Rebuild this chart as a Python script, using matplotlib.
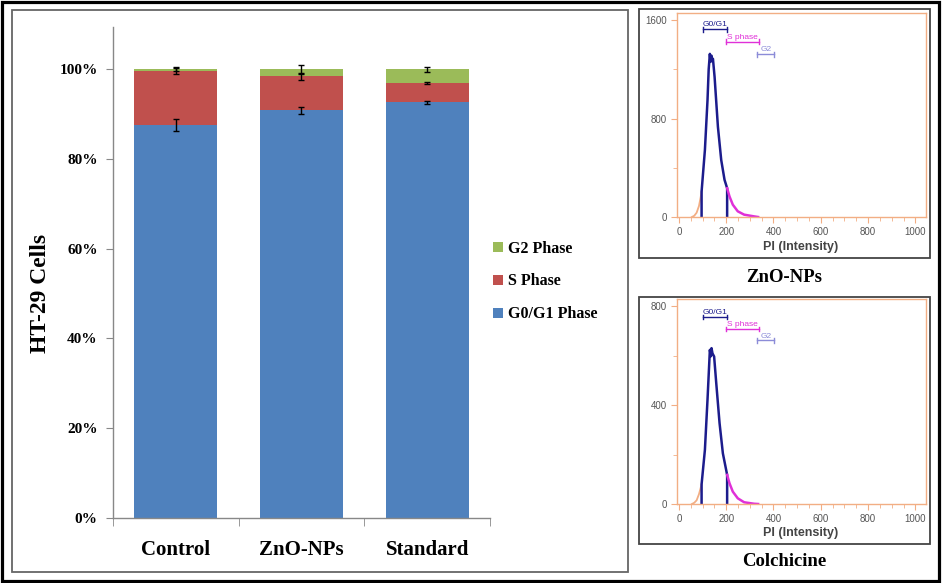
import matplotlib
matplotlib.use('Agg')
import matplotlib.pyplot as plt
from matplotlib.patches import Rectangle
from matplotlib.ticker import FixedLocator, MultipleLocator

# ---------------- data: stacked bar chart ----------------
categories = ['Control', 'ZnO-NPs', 'Standard']
g0g1 = [87.5, 90.8, 92.6]
s_phase = [12.1, 7.6, 4.3]
g2 = [0.4, 1.6, 3.1]
g0g1_err = [1.3, 0.7, 0.3]
s_err = [0.7, 0.75, 0.3]
g2_err = [0.5, 1.0, 0.55]
yticks = [0, 20, 40, 60, 80, 100]

# ---------------- data: flow cytometry histograms ----------------
debris_x = [55, 65, 75, 85, 92, 96]
zno_debris_y = [0, 10, 35, 90, 160, 207]
col_debris_y = [0, 5, 15, 40, 65, 80]

zno_g1_x = [96, 96, 110, 121, 126, 131, 134, 138, 141, 144, 151, 165, 179, 193, 204, 204]
zno_g1_y = [0, 207, 544, 948, 1200, 1325, 1260, 1310, 1270, 1285, 1137, 733, 463, 302, 234, 0]
col_g1_x = [96, 96, 110, 121, 131, 135, 138, 142, 149, 158, 172, 186, 204, 204]
col_g1_y = [0, 80, 219, 422, 624, 598, 631, 610, 597, 489, 327, 205, 118, 0]

s_x = [204, 214, 228, 249, 276, 318, 335]
zno_s_y = [234, 167, 100, 46, 19, 5, 0]
col_s_y = [118, 84, 50, 23, 7, 1, 0]

gate_names = ['G0/G1', 'S phase', 'G2']
gate_ranges = [(100, 204), (200, 340), (332, 404)]
zno_gate_y = [1525, 1424, 1322]
col_gate_y = [757, 709, 662]

W, H = 944, 583
fig = plt.figure(figsize=(W / 100, H / 100), dpi=100)

serif = ['Liberation Serif', 'DejaVu Serif']
sans = ['Liberation Sans', 'DejaVu Sans']


def fx(px):
    return px / W


def fy(py):
    return 1 - py / H


def frect(x0, y0, x1, y1, color, lw):
    fig.patches.append(Rectangle((fx(x0), fy(y1)), fx(x1) - fx(x0), fy(y0) - fy(y1),
                                 transform=fig.transFigure, fill=False,
                                 edgecolor=color, linewidth=lw, zorder=10))


# borders
frect(1.5, 1.5, 938.5, 581, 'black', 2.3)
frect(12, 10, 628, 572, '#666666', 1.3)
frect(639, 9, 930, 258, '#444444', 1.3)
frect(639, 297, 930, 544, '#444444', 1.3)

# ---------------- main stacked bar chart ----------------
ax = fig.add_axes([fx(113), fy(518), fx(490) - fx(113), fy(27) - fy(518)])
xpos = list(range(len(categories)))
blue, red, green = '#4F81BD', '#C0504D', '#9BBB59'
bw = 0.66
b1 = ax.bar(xpos, g0g1, bw, color=blue, label='G0/G1 Phase')
bottom2 = list(g0g1)
b2 = ax.bar(xpos, s_phase, bw, bottom=bottom2, color=red, label='S Phase')
bottom3 = [a + b for a, b in zip(g0g1, s_phase)]
b3 = ax.bar(xpos, g2, bw, bottom=bottom3, color=green, label='G2 Phase')
top3 = [a + b for a, b in zip(bottom3, g2)]
ekw = dict(fmt='none', ecolor='black', elinewidth=1.0, capsize=2.5, capthick=1.0, zorder=5)
ax.errorbar(xpos, g0g1, yerr=g0g1_err, **ekw)
ax.errorbar(xpos, bottom3, yerr=s_err, **ekw)
ax.errorbar(xpos, top3, yerr=g2_err, **ekw)

ax.set_xlim(-0.5, len(categories) - 0.5)
ax.set_ylim(0, 109.4)
ax.set_yticks(yticks)
ax.set_yticklabels([f'{v}%' for v in yticks], fontfamily=serif, fontweight='bold', fontsize=11)
ax.set_xticks(xpos)
ax.set_xticklabels(categories, fontfamily=serif, fontweight='bold', fontsize=15)
ax.xaxis.set_minor_locator(FixedLocator([i - 0.5 for i in range(len(categories) + 1)]))
ax.tick_params(axis='x', which='major', length=0, pad=16)
ax.tick_params(axis='x', which='minor', length=6, direction='out', color='#888888')
ax.tick_params(axis='y', length=5, direction='out', color='#888888', pad=6)
for sp in ['top', 'right']:
    ax.spines[sp].set_visible(False)
for sp in ['left', 'bottom']:
    ax.spines[sp].set_color('#888888')
    ax.spines[sp].set_linewidth(1.0)

fig.text(fx(40), fy(293), 'HT-29 Cells', rotation=90, ha='center', va='center',
         fontfamily=serif, fontweight='bold', fontsize=17)

leg = ax.legend(handles=[b3, b2, b1], loc='center left',
                bbox_to_anchor=(fx(493), fy(281.5)), bbox_transform=fig.transFigure,
                frameon=False, borderpad=0, borderaxespad=0, handlelength=0.6,
                handleheight=0.6, handletextpad=0.35, labelspacing=1.05,
                prop={'family': serif, 'weight': 'bold', 'size': 11.5})

# ---------------- flow cytometry panels ----------------
orange = '#F2AE84'
navy = '#1C1C8C'
magenta = '#E030D8'
light = '#8C8CD8'
gate_colors = [navy, magenta, light]


def flow_panel(top_px, bottom_px, ymax, ytop, debris_y, g1x, g1y, sy, gate_y, title, title_y, label_y):
    a = fig.add_axes([fx(677), fy(bottom_px), fx(926) - fx(677), fy(top_px) - fy(bottom_px)])
    a.plot(debris_x, debris_y, color=orange, lw=1.3)
    a.plot(g1x, g1y, color=navy, lw=1.8)
    a.plot(s_x, sy, color=magenta, lw=1.8)
    for name, (x0, x1), gy, c in zip(gate_names, gate_ranges, gate_y, gate_colors):
        a.plot([x0, x1], [gy, gy], color=c, lw=1.0)
        dy = ymax * 0.012
        a.plot([x0, x0], [gy - dy, gy + dy], color=c, lw=1.0)
        a.plot([x1, x1], [gy - dy, gy + dy], color=c, lw=1.0)
        a.text((x0 + x1) / 2, gy + ymax * 0.005, name, color=c, fontsize=6, ha='center',
               va='bottom', fontfamily=sans)
    a.set_xlim(-8, 1045)
    a.set_ylim(0, ytop)
    a.set_xticks([0, 200, 400, 600, 800, 1000])
    a.xaxis.set_minor_locator(MultipleLocator(50))
    a.set_yticks([0, ymax / 2, ymax])
    a.set_yticklabels(['0', f'{int(ymax / 2)}', f'{int(ymax)}'])
    a.yaxis.set_minor_locator(MultipleLocator(ymax / 4))
    a.tick_params(which='both', direction='out', color=orange, labelcolor='#555555',
                  labelsize=7)
    a.tick_params(which='major', length=4)
    a.tick_params(which='minor', length=3)
    for lab in a.get_xticklabels() + a.get_yticklabels():
        lab.set_fontfamily(sans)
    for sp in a.spines.values():
        sp.set_color(orange)
        sp.set_linewidth(1.0)
    fig.text(fx(801), fy(label_y), 'PI (Intensity)', ha='center', va='center',
             fontfamily=sans, fontweight='bold', fontsize=9, color='#444444')
    fig.text(fx(784), fy(title_y), title, ha='center', va='center',
             fontfamily=serif, fontweight='bold', fontsize=13.5)


flow_panel(13, 217, 1600, 1657, zno_debris_y, zno_g1_x, zno_g1_y, zno_s_y, zno_gate_y,
           'ZnO-NPs', 277, 247)
flow_panel(299, 504, 800, 830, col_debris_y, col_g1_x, col_g1_y, col_s_y, col_gate_y,
           'Colchicine', 562, 533)

fig.savefig('out.png', dpi=100)
